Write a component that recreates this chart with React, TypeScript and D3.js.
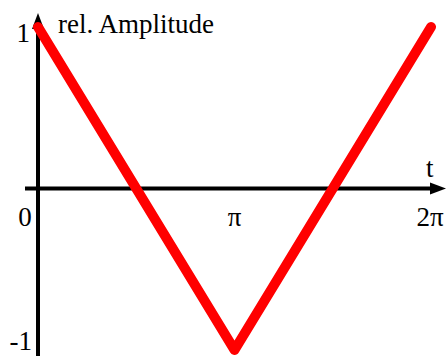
import React from "react";
import * as d3 from "d3";

const tValues = [0, Math.PI, 2 * Math.PI];
const ampValues = [1, -1, 1];
const xTickValues = [0, Math.PI, 2 * Math.PI];
const xTickLabels = ["0", "π", "2π"];
const yTickValues = [1, -1];
const yTickLabels = ["1", "-1"];

const W = 446;
const H = 356;

export default function App() {
  const x = d3.scaleLinear().domain([0, 2 * Math.PI]).range([38, 431]);
  const y = d3.scaleLinear().domain([-1, 1]).range([350, 27]);
  const line = d3
    .line<number>()
    .x((_, i) => x(tValues[i]))
    .y((d) => y(d));
  const x0 = x(0);
  const y0 = y(0);
  const font = "'Liberation Serif', 'Times New Roman', serif";
  const fs = 27;
  return (
    <svg
      width={W}
      height={H}
      style={{ position: "absolute", left: 0, top: 0, background: "#fff" }}
      fontFamily={font}
    >
      {/* x axis */}
      <line x1={25} x2={432} y1={y0} y2={y0} stroke="#000" strokeWidth={4} />
      <path d={`M446,${y0} L430,${y0 - 6} L430,${y0 + 6} Z`} fill="#000" />
      {/* y axis */}
      <line x1={x0} x2={x0} y1={H} y2={26} stroke="#000" strokeWidth={4} />
      <path d={`M${x0},13 L${x0 - 6},29 L${x0 + 6},29 Z`} fill="#000" />
      {/* data */}
      <path
        d={line(ampValues) || ""}
        fill="none"
        stroke="#ff0000"
        strokeWidth={10}
        strokeLinecap="round"
        strokeLinejoin="round"
      />
      {/* labels */}
      <text x={58} y={33} fontSize={fs}>rel. Amplitude</text>
      <text x={426} y={177} fontSize={fs}>t</text>
      {xTickValues.map((v, i) => (
        <text
          key={i}
          x={i === 0 ? 25 : i === 2 ? 430 : x(v)}
          y={226}
          fontSize={fs}
          textAnchor="middle"
        >
          {xTickLabels[i]}
        </text>
      ))}
      {yTickValues.map((v, i) => (
        <text
          key={i}
          x={i === 0 ? 30 : 32}
          y={i === 0 ? 42 : 350}
          fontSize={fs}
          textAnchor="end"
        >
          {yTickLabels[i]}
        </text>
      ))}
    </svg>
  );
}
